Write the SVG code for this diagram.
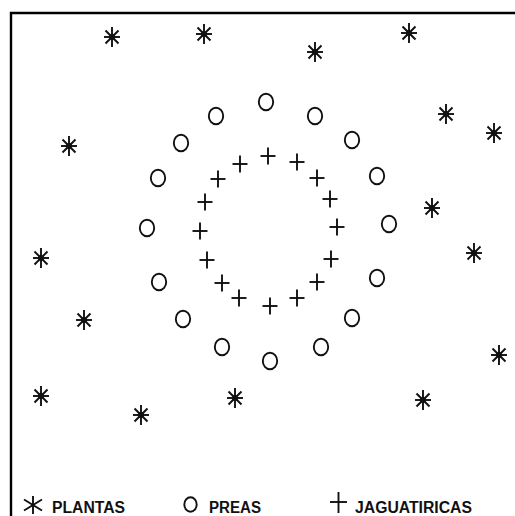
<svg xmlns="http://www.w3.org/2000/svg" xmlns:xlink="http://www.w3.org/1999/xlink" width="515" height="516" viewBox="0 0 515 516">
<style>
.frame{stroke:#000;stroke-width:2.4;fill:none}
.sym{stroke:#111;stroke-width:1.9;fill:none;stroke-linecap:butt}
.circ{stroke:#111;stroke-width:1.9;fill:none}
.lbl{font-family:"Liberation Sans",Arial,sans-serif;font-weight:bold;font-size:16px;fill:#111}
</style>
<defs>
<g id="ast">
<line class="sym" x1="0" y1="-10" x2="0" y2="10"/>
<line class="sym" x1="-8" y1="0" x2="8" y2="0"/>
<line class="sym" x1="-6.5" y1="-6.5" x2="6.5" y2="6.5"/>
<line class="sym" x1="-6.5" y1="6.5" x2="6.5" y2="-6.5"/>
<circle cx="0" cy="0" r="3" fill="#111"/>
</g>
<g id="plus">
<line class="sym" x1="-7.5" y1="0" x2="7.5" y2="0"/>
<line class="sym" x1="0" y1="-8.5" x2="0" y2="8.5"/>
</g>
<ellipse id="circ" class="circ" cx="0" cy="0" rx="7.2" ry="8.2"/>
</defs>
<rect width="515" height="516" fill="#fff"/>
<path class="frame" d="M11,516 V13 H515"/>

<g id="plantas">
<g id="p1"><use xlink:href="#ast" x="112" y="37"/></g>
<g id="p2"><use xlink:href="#ast" x="204" y="34"/></g>
<g id="p3"><use xlink:href="#ast" x="315" y="52"/></g>
<g id="p4"><use xlink:href="#ast" x="409" y="33"/></g>
<g id="p5"><use xlink:href="#ast" x="446" y="114"/></g>
<g id="p6"><use xlink:href="#ast" x="494" y="133"/></g>
<g id="p7"><use xlink:href="#ast" x="69" y="146"/></g>
<g id="p8"><use xlink:href="#ast" x="432" y="208"/></g>
<g id="p9"><use xlink:href="#ast" x="474" y="253"/></g>
<g id="p10"><use xlink:href="#ast" x="41" y="258"/></g>
<g id="p11"><use xlink:href="#ast" x="84" y="320"/></g>
<g id="p12"><use xlink:href="#ast" x="499" y="355"/></g>
<g id="p13"><use xlink:href="#ast" x="41" y="396"/></g>
<g id="p14"><use xlink:href="#ast" x="141" y="415"/></g>
<g id="p15"><use xlink:href="#ast" x="235" y="398"/></g>
<g id="p16"><use xlink:href="#ast" x="423" y="400"/></g>
</g>

<g id="preas">
<g id="c1"><use xlink:href="#circ" x="266" y="102"/></g>
<g id="c2"><use xlink:href="#circ" x="216" y="116"/></g>
<g id="c3"><use xlink:href="#circ" x="315" y="116"/></g>
<g id="c4"><use xlink:href="#circ" x="181" y="143"/></g>
<g id="c5"><use xlink:href="#circ" x="352" y="140"/></g>
<g id="c6"><use xlink:href="#circ" x="158" y="178"/></g>
<g id="c7"><use xlink:href="#circ" x="377" y="176"/></g>
<g id="c8"><use xlink:href="#circ" x="147" y="228"/></g>
<g id="c9"><use xlink:href="#circ" x="389" y="224"/></g>
<g id="c10"><use xlink:href="#circ" x="159" y="282"/></g>
<g id="c11"><use xlink:href="#circ" x="377" y="278"/></g>
<g id="c12"><use xlink:href="#circ" x="183" y="319"/></g>
<g id="c13"><use xlink:href="#circ" x="352" y="318"/></g>
<g id="c14"><use xlink:href="#circ" x="222" y="347"/></g>
<g id="c15"><use xlink:href="#circ" x="321" y="347"/></g>
<g id="c16"><use xlink:href="#circ" x="270" y="361"/></g>
</g>

<g id="jaguatiricas">
<g id="j1"><use xlink:href="#plus" x="268" y="156"/></g>
<g id="j2"><use xlink:href="#plus" x="240" y="164"/></g>
<g id="j3"><use xlink:href="#plus" x="297" y="162"/></g>
<g id="j4"><use xlink:href="#plus" x="218" y="179"/></g>
<g id="j5"><use xlink:href="#plus" x="317" y="178"/></g>
<g id="j6"><use xlink:href="#plus" x="205" y="202"/></g>
<g id="j7"><use xlink:href="#plus" x="330" y="199"/></g>
<g id="j8"><use xlink:href="#plus" x="200" y="231"/></g>
<g id="j9"><use xlink:href="#plus" x="337" y="227"/></g>
<g id="j10"><use xlink:href="#plus" x="207" y="260"/></g>
<g id="j11"><use xlink:href="#plus" x="331" y="259"/></g>
<g id="j12"><use xlink:href="#plus" x="222" y="283"/></g>
<g id="j13"><use xlink:href="#plus" x="317" y="282"/></g>
<g id="j14"><use xlink:href="#plus" x="239" y="298"/></g>
<g id="j15"><use xlink:href="#plus" x="297" y="298"/></g>
<g id="j16"><use xlink:href="#plus" x="270" y="306"/></g>
</g>

<g id="connectors"></g>

<g id="legend">
<g id="leg-plantas">
<g class="sym" transform="translate(33,505)" stroke-width="2.2">
<line x1="0" y1="-9" x2="0" y2="9"/>
<line x1="-9" y1="-5.5" x2="9" y2="5.5"/>
<line x1="-9" y1="5.5" x2="9" y2="-5.5"/>
</g>
<text class="lbl" x="52" y="513" textLength="73" lengthAdjust="spacingAndGlyphs">PLANTAS</text>
</g>
<g id="leg-preas">
<ellipse class="circ" cx="190.5" cy="504.5" rx="6.2" ry="7.2" stroke-width="2.2"/>
<text class="lbl" x="209" y="513" textLength="52" lengthAdjust="spacingAndGlyphs">PREAS</text>
</g>
<g id="leg-jag">
<line class="sym" x1="330" y1="502" x2="347" y2="502" stroke-width="2.2"/>
<line class="sym" x1="338.5" y1="492" x2="338.5" y2="513" stroke-width="2.2"/>
<text class="lbl" x="355" y="513" textLength="117" lengthAdjust="spacingAndGlyphs">JAGUATIRICAS</text>
</g>
</g>
</svg>
